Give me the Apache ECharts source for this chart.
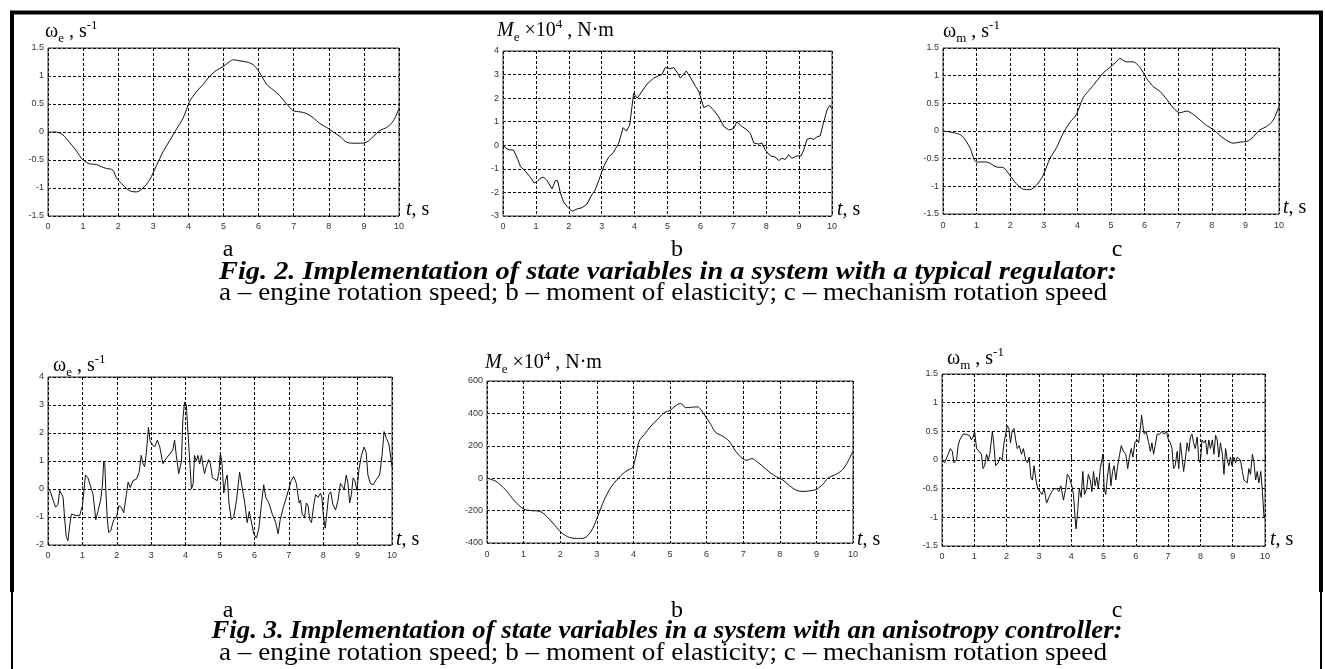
<!DOCTYPE html>
<html>
<head>
<meta charset="utf-8">
<script src="https://cdn.jsdelivr.net/npm/echarts@6/dist/echarts.min.js"></script>
<style>
html, body { margin: 0; padding: 0; background: #fff; }
#chart { width: 1325px; height: 669px; }
</style>
</head>
<body>
<div id="chart"></div>
<script>
// time axis ticks (s)
const timeTicks = [0, 1, 2, 3, 4, 5, 6, 7, 8, 9, 10];

// Fig. 2 - typical regulator, [t, value]
const fig2Engine = [[0,0],[0.19,0],[0.38,-0.03],[0.57,-0.15],[0.8,-0.33],[1.0,-0.5],[1.19,-0.57],[1.38,-0.58],[1.52,-0.62],[1.66,-0.65],[1.85,-0.68],[1.95,-0.82],[2.14,-0.95],[2.33,-1.05],[2.52,-1.07],[2.71,-1.0],[2.9,-0.85],[3.09,-0.6],[3.28,-0.35],[3.47,-0.15],[3.66,0.05],[3.85,0.25],[4.04,0.55],[4.23,0.72],[4.42,0.85],[4.61,1.0],[4.8,1.1],[4.99,1.17],[5.18,1.26],[5.28,1.29],[5.47,1.27],[5.66,1.25],[5.85,1.2],[6.04,1.05],[6.23,0.85],[6.42,0.75],[6.6,0.65],[6.8,0.5],[6.99,0.38],[7.18,0.36],[7.37,0.33],[7.56,0.25],[7.75,0.15],[7.94,0.08],[8.13,0],[8.32,-0.08],[8.5,-0.18],[8.7,-0.2],[8.89,-0.2],[9.08,-0.18],[9.27,-0.08],[9.46,0.03],[9.65,0.08],[9.84,0.2],[10,0.42]];
const fig2Moment = [[0,0],[0.12,-0.15],[0.22,-0.2],[0.32,-0.2],[0.45,-0.6],[0.53,-0.9],[0.68,-1.1],[0.83,-1.35],[0.95,-1.6],[1.03,-1.55],[1.13,-1.4],[1.24,-1.35],[1.34,-1.5],[1.49,-1.85],[1.59,-1.5],[1.66,-1.5],[1.74,-2.0],[1.84,-2.4],[1.95,-2.6],[2.1,-2.8],[2.25,-2.7],[2.4,-2.65],[2.55,-2.5],[2.7,-2.1],[2.8,-1.9],[2.91,-1.5],[3.06,-0.9],[3.21,-0.5],[3.36,-0.3],[3.52,0.1],[3.65,0.75],[3.75,0.6],[3.85,0.85],[3.97,2.2],[4.08,2.0],[4.23,2.3],[4.38,2.6],[4.58,2.85],[4.73,2.95],[4.83,3.0],[4.93,3.3],[5.07,3.25],[5.19,3.3],[5.29,3.1],[5.39,2.85],[5.57,3.15],[5.69,2.9],[5.85,2.5],[5.95,2.3],[6.1,1.6],[6.25,1.7],[6.4,1.5],[6.56,1.2],[6.71,0.8],[6.86,0.65],[7.01,0.7],[7.11,1.0],[7.26,0.8],[7.42,0.65],[7.52,0.5],[7.62,0.1],[7.77,0.05],[7.87,0.1],[7.97,-0.2],[8.13,-0.45],[8.28,-0.5],[8.38,-0.65],[8.48,-0.55],[8.58,-0.6],[8.68,-0.4],[8.78,-0.55],[8.94,-0.45],[9.06,-0.45],[9.14,-0.2],[9.24,0.25],[9.34,0.3],[9.44,0.25],[9.54,0.35],[9.64,0.4],[9.75,1.0],[9.85,1.5],[9.93,1.7],[10,1.55]];
const fig2Mech = [[0,0],[0.3,-0.03],[0.55,-0.08],[0.8,-0.3],[1.0,-0.56],[1.29,-0.56],[1.59,-0.65],[1.79,-0.66],[1.99,-0.8],[2.18,-0.95],[2.38,-1.05],[2.58,-1.06],[2.78,-0.98],[2.98,-0.8],[3.18,-0.5],[3.38,-0.3],[3.57,-0.05],[3.77,0.15],[3.97,0.3],[4.17,0.6],[4.37,0.75],[4.57,0.9],[4.77,1.05],[4.97,1.15],[5.16,1.25],[5.26,1.31],[5.46,1.25],[5.66,1.25],[5.86,1.15],[6.06,0.95],[6.26,0.8],[6.45,0.72],[6.65,0.58],[6.85,0.42],[7.05,0.33],[7.25,0.36],[7.45,0.3],[7.65,0.2],[7.84,0.1],[8.04,0.03],[8.24,-0.08],[8.44,-0.17],[8.64,-0.22],[8.84,-0.2],[9.04,-0.19],[9.24,-0.1],[9.43,0.02],[9.63,0.08],[9.83,0.2],[10,0.45]];

// Fig. 3 - anisotropy controller, [t, value]
const fig3Engine = [[0,0.05],[0.07,-0.1],[0.15,-0.4],[0.22,-0.65],[0.29,-0.55],[0.34,-0.05],[0.39,0],[0.44,-0.3],[0.48,-1.0],[0.53,-1.7],[0.58,-1.85],[0.63,-1.3],[0.68,-0.9],[0.73,-0.85],[0.82,-0.95],[0.92,-0.95],[1.0,-0.6],[1.05,0],[1.09,0.5],[1.16,0.4],[1.26,0],[1.31,-0.2],[1.39,-1.1],[1.45,-0.8],[1.53,-0.4],[1.58,0.1],[1.62,1.0],[1.65,0.9],[1.68,0],[1.72,-1.0],[1.76,-1.55],[1.82,-1.5],[1.87,-1.5],[1.91,-1.1],[1.99,-1.0],[2.06,-0.6],[2.13,-0.65],[2.2,-0.85],[2.28,-0.2],[2.33,0.25],[2.39,0.05],[2.47,0.3],[2.57,0.35],[2.65,0.6],[2.71,1.2],[2.76,0.9],[2.81,0.8],[2.86,1.3],[2.92,2.2],[2.97,1.7],[3.03,1.6],[3.1,1.5],[3.18,1.75],[3.25,1.5],[3.34,0.9],[3.44,1.1],[3.54,1.25],[3.63,1.4],[3.68,1.75],[3.73,1.2],[3.8,0.55],[3.88,1.0],[3.92,2.5],[3.97,3.1],[4.02,3.0],[4.07,2.0],[4.12,1.0],[4.17,0],[4.22,0.2],[4.26,1.2],[4.31,1.0],[4.36,1.2],[4.41,0.9],[4.46,1.2],[4.51,0.8],[4.55,0.55],[4.6,0.8],[4.67,1.05],[4.72,0.9],[4.78,0.4],[4.84,0.35],[4.92,0.3],[4.97,0.6],[5.01,1.3],[5.06,0.9],[5.11,-0.15],[5.16,0.3],[5.21,0.5],[5.26,-0.5],[5.33,-1.1],[5.4,-1.0],[5.48,-0.4],[5.57,0.6],[5.65,0],[5.72,-0.5],[5.79,-1.2],[5.85,-0.8],[5.9,-1.1],[5.98,-1.6],[6.06,-1.75],[6.13,-1.4],[6.2,-0.6],[6.27,0.15],[6.33,-0.3],[6.42,-0.5],[6.52,-0.9],[6.62,-1.2],[6.69,-1.6],[6.75,-1.1],[6.83,-0.7],[6.93,-0.3],[7.0,0],[7.07,0.3],[7.14,0.45],[7.22,0.2],[7.3,-0.5],[7.34,-0.4],[7.39,-0.9],[7.46,-1.0],[7.51,-0.5],[7.56,-0.6],[7.61,-1.1],[7.66,-1.2],[7.72,-0.6],[7.78,-0.2],[7.85,-0.3],[7.92,-0.15],[7.96,-0.3],[8.01,-1.0],[8.06,-1.4],[8.11,-0.8],[8.16,-0.2],[8.22,-0.1],[8.28,-0.55],[8.36,-0.75],[8.43,-0.4],[8.5,0.2],[8.55,0.1],[8.61,0],[8.67,0.5],[8.72,0.2],[8.77,-0.5],[8.82,-0.2],[8.87,0.4],[8.92,0.3],[8.98,-0.05],[9.04,0.7],[9.11,1.2],[9.19,1.5],[9.25,1.3],[9.3,0.5],[9.37,0.2],[9.45,0.15],[9.55,0.35],[9.64,0.5],[9.71,1.2],[9.77,2.05],[9.84,1.8],[9.91,1.6],[9.96,1.6],[10,0.8]];
const fig3Moment = [[0,0],[0.25,-20],[0.5,-70],[0.75,-140],[1.0,-190],[1.2,-200],[1.45,-205],[1.65,-240],[1.85,-290],[2.05,-340],[2.25,-365],[2.45,-372],[2.65,-370],[2.85,-326],[3.0,-250],[3.21,-130],[3.39,-55],[3.55,-10],[3.75,35],[3.89,55],[3.98,65],[4.07,138],[4.16,230],[4.3,270],[4.48,322],[4.66,363],[4.84,404],[5.02,420],[5.11,440],[5.29,462],[5.43,435],[5.57,438],[5.75,440],[5.93,395],[6.11,333],[6.25,282],[6.43,261],[6.61,230],[6.79,168],[6.97,123],[7.1,111],[7.24,121],[7.37,103],[7.55,70],[7.73,35],[7.91,8],[8.09,-12],[8.27,-47],[8.45,-74],[8.63,-82],[8.81,-78],[8.99,-70],[9.18,-37],[9.31,0],[9.5,20],[9.68,45],[9.82,86],[10,168]];
const fig3Mech = [[0,0],[0.08,-0.05],[0.19,0.1],[0.26,0.2],[0.32,0.15],[0.37,-0.05],[0.45,0],[0.5,0.25],[0.55,0.35],[0.65,0.45],[0.75,0.45],[0.86,0.42],[0.91,0.35],[0.96,0.4],[1.01,0.5],[1.07,0.2],[1.15,0.15],[1.22,0.1],[1.27,-0.15],[1.32,-0.1],[1.38,0.1],[1.43,0],[1.48,0.1],[1.56,0.5],[1.6,0.3],[1.66,-0.1],[1.74,-0.05],[1.79,0.05],[1.86,0],[1.92,0.3],[1.97,0.3],[2.02,0.6],[2.07,0.55],[2.12,0.3],[2.17,0.5],[2.23,0.55],[2.28,0.35],[2.33,0.2],[2.39,0.25],[2.46,0.1],[2.52,0.2],[2.59,0],[2.65,-0.05],[2.7,0.05],[2.75,-0.3],[2.8,-0.35],[2.85,-0.1],[2.91,-0.35],[2.96,-0.5],[3.03,-0.55],[3.1,-0.6],[3.16,-0.5],[3.24,-0.75],[3.31,-0.65],[3.4,-0.55],[3.47,-0.5],[3.55,-0.5],[3.62,-0.55],[3.68,-0.45],[3.76,-0.7],[3.83,-0.5],[3.88,-0.25],[3.94,-0.3],[4.02,-0.45],[4.07,-0.6],[4.12,-1.0],[4.15,-1.2],[4.2,-0.9],[4.25,-0.5],[4.31,-0.65],[4.36,-0.2],[4.41,-0.6],[4.48,-0.5],[4.53,-0.25],[4.59,-0.35],[4.64,-0.55],[4.69,-0.2],[4.74,-0.45],[4.79,-0.3],[4.84,-0.5],[4.9,-0.15],[4.95,0],[4.98,0.1],[5.02,-0.5],[5.07,-0.6],[5.12,-0.3],[5.18,-0.05],[5.23,-0.45],[5.28,-0.2],[5.33,-0.1],[5.38,-0.35],[5.44,-0.1],[5.5,0.1],[5.55,0.25],[5.62,0.15],[5.69,0.1],[5.75,-0.15],[5.8,0.05],[5.86,0.2],[5.91,0.05],[5.97,0.3],[6.04,0.35],[6.09,0.3],[6.14,0.55],[6.18,0.78],[6.22,0.6],[6.26,0.45],[6.32,0.5],[6.4,0.3],[6.45,0.15],[6.5,0.3],[6.55,0.1],[6.6,0.25],[6.66,0.45],[6.74,0.45],[6.81,0.5],[6.88,0.45],[6.95,0.5],[7.01,0.35],[7.07,0.3],[7.12,0.2],[7.17,-0.15],[7.22,-0.1],[7.28,0.15],[7.33,-0.15],[7.38,0.3],[7.43,0.05],[7.48,-0.2],[7.53,0],[7.59,0.3],[7.64,0.15],[7.69,0.4],[7.74,0.45],[7.79,0.3],[7.84,0.2],[7.9,0.4],[7.95,0],[8.0,-0.05],[8.05,0.35],[8.11,0.3],[8.16,0.35],[8.21,0.1],[8.26,0.35],[8.31,0.2],[8.37,0.35],[8.42,0.1],[8.47,0.43],[8.52,0.35],[8.57,0.05],[8.62,0.3],[8.68,0.1],[8.73,-0.25],[8.78,0.2],[8.83,0],[8.88,-0.1],[8.93,0.05],[8.98,-0.1],[9.04,0.05],[9.09,-0.05],[9.14,0.05],[9.24,0],[9.3,-0.2],[9.35,-0.35],[9.4,-0.35],[9.45,-0.4],[9.5,-0.15],[9.55,-0.25],[9.61,0.1],[9.66,-0.05],[9.71,-0.35],[9.76,-0.2],[9.81,-0.4],[9.87,-0.2],[9.92,-0.55],[9.97,-1.0],[10,-0.95]];

// y ranges of the six panels
const yMins = [-1.5, -3, -1.5, -2, -400, -1.5];
const yMaxs = [1.5, 4, 1.5, 4, 600, 1.5];
const ySteps = [0.5, 1, 0.5, 1, 200, 0.5];
const panelData = [fig2Engine, fig2Moment, fig2Mech, fig3Engine, fig3Moment, fig3Mech];
const smoothFlags = [0.3, 0, 0.3, 0, 0.3, 0];

// panel boxes in px: left, top, width, height
const boxes = [
  [48, 48, 351, 168],
  [503, 51, 329, 165],
  [943, 48, 336, 166],
  [48, 377, 344, 168],
  [487, 381, 366, 162],
  [942, 374, 323, 172]
];
const xLabelMargin = [6, 6, 7, 6, 7, 6];

const serif = '"Liberation Serif", "Times New Roman", serif';
const sans = '"Liberation Sans", Arial, sans-serif';

const chart = echarts.init(document.getElementById('chart'));

const grids = [], xAxes = [], yAxes = [], series = [];
boxes.forEach((b, i) => {
  grids.push({
    left: b[0], top: b[1], width: b[2], height: b[3],
    show: true, borderColor: '#333', borderWidth: 1, backgroundColor: '#fff'
  });
  xAxes.push({
    type: 'value', gridIndex: i, min: timeTicks[0], max: timeTicks[timeTicks.length - 1], interval: 1,
    axisLine: { show: false },
    axisTick: { show: true, inside: true, length: 3, lineStyle: { color: '#333' } },
    axisLabel: { fontFamily: sans, fontSize: 9, color: '#333', margin: xLabelMargin[i] },
    splitLine: { show: true, lineStyle: { color: '#000', type: [3, 2], width: 1 } }
  });
  yAxes.push({
    type: 'value', gridIndex: i, min: yMins[i], max: yMaxs[i], interval: ySteps[i],
    axisLine: { show: false },
    axisTick: { show: true, inside: true, length: 3, lineStyle: { color: '#333' } },
    axisLabel: { fontFamily: sans, fontSize: 9, color: '#333', margin: 4 },
    splitLine: { show: true, lineStyle: { color: '#000', type: [3, 2], width: 1 } }
  });
  series.push({
    type: 'line', xAxisIndex: i, yAxisIndex: i,
    data: panelData[i], showSymbol: false, smooth: smoothFlags[i],
    lineStyle: { color: '#111', width: 1 }, animation: false
  });
});

const rich = {
  a: { fontFamily: serif, fontSize: 20, lineHeight: 26, color: '#000' },
  i: { fontFamily: serif, fontSize: 20, lineHeight: 26, fontStyle: 'italic', color: '#000' },
  sub: { fontFamily: serif, fontSize: 13, lineHeight: 13, verticalAlign: 'bottom', color: '#000' },
  sup: { fontFamily: serif, fontSize: 13, lineHeight: 13, verticalAlign: 'top', color: '#000' },
  ti: { fontFamily: serif, fontSize: 20, fontStyle: 'italic', color: '#000' },
  tr: { fontFamily: serif, fontSize: 20, color: '#000' }
};

function richText(x, y, text) {
  return { type: 'text', x: x, y: y, style: { text: text, rich: rich, align: 'left', verticalAlign: 'middle' } };
}

const measureCtx = document.createElement('canvas').getContext('2d');
function caption(cx, cy, text, font, targetW) {
  measureCtx.font = font;
  const w = measureCtx.measureText(text).width;
  return {
    type: 'text', x: cx, y: cy, scaleX: targetW / w,
    style: { text: text, font: font, fill: '#000', align: 'center', verticalAlign: 'middle' }
  };
}

const boldFont = 'italic bold 26px ' + serif;
const capFont = '26px ' + serif;
const regFont = '24px ' + serif;
const legendText = 'a \u2013 engine rotation speed; b \u2013 moment of elasticity; c \u2013 mechanism rotation speed';

function letter(x, y, t) {
  return { type: 'text', x: x, y: y, style: { text: t, font: regFont, fill: '#000', align: 'center', verticalAlign: 'middle' } };
}

const graphics = [
  // outer frame
  { type: 'line', shape: { x1: 10, y1: 12.5, x2: 1323, y2: 12.5 }, style: { stroke: '#000', lineWidth: 4 } },
  { type: 'line', shape: { x1: 12, y1: 11, x2: 12, y2: 592 }, style: { stroke: '#000', lineWidth: 4 } },
  { type: 'line', shape: { x1: 12, y1: 592, x2: 12, y2: 669 }, style: { stroke: '#000', lineWidth: 2 } },
  { type: 'line', shape: { x1: 1321, y1: 11, x2: 1321, y2: 592 }, style: { stroke: '#000', lineWidth: 4 } },
  { type: 'line', shape: { x1: 1321, y1: 592, x2: 1321, y2: 669 }, style: { stroke: '#000', lineWidth: 2 } },

  // axis names
  richText(45, 32, '{a|\u03c9}{sub|e}{a| , s}{sup|-1}'),
  richText(497, 31, '{i|M}{sub|e}{a| \u00d710}{sup|4}{a| , N\u00b7m}'),
  richText(943, 32, '{a|\u03c9}{sub|m}{a| , s}{sup|-1}'),
  richText(53, 366, '{a|\u03c9}{sub|e}{a| , s}{sup|-1}'),
  richText(485, 363, '{i|M}{sub|e}{a| \u00d710}{sup|4}{a| , N\u00b7m}'),
  richText(947, 359, '{a|\u03c9}{sub|m}{a| , s}{sup|-1}'),

  // t, s
  richText(406, 210, '{ti|t}{tr|, s}'),
  richText(837, 210, '{ti|t}{tr|, s}'),
  richText(1283, 208, '{ti|t}{tr|, s}'),
  richText(396, 540, '{ti|t}{tr|, s}'),
  richText(857, 540, '{ti|t}{tr|, s}'),
  richText(1270, 540, '{ti|t}{tr|, s}'),

  // panel letters
  letter(228, 250, 'a'), letter(677, 250, 'b'), letter(1117, 250, 'c'),
  letter(228, 611, 'a'), letter(677, 611, 'b'), letter(1117, 611, 'c'),

  // captions
  caption(668, 272, 'Fig. 2. Implementation of state variables in a system with a typical regulator:', boldFont, 898),
  caption(663, 293, legendText, capFont, 888),
  caption(667, 631, 'Fig. 3. Implementation of state variables in a system with an anisotropy controller:', boldFont, 911),
  caption(663, 653, legendText, capFont, 888)
];

chart.setOption({
  animation: false,
  backgroundColor: '#fff',
  grid: grids,
  xAxis: xAxes,
  yAxis: yAxes,
  series: series,
  graphic: graphics
});
</script>
</body>
</html>
